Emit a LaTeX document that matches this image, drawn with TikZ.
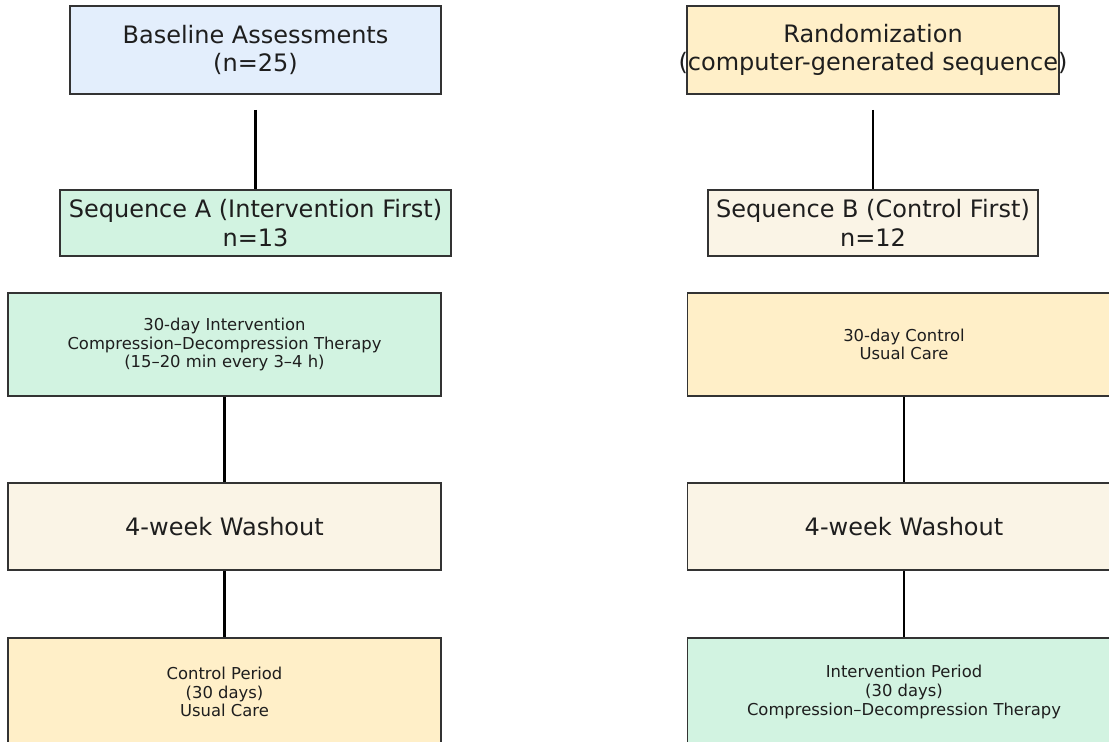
\documentclass[tikz,border=0pt]{standalone}
\usepackage{fontspec}
\setmainfont{DejaVu Sans}
\usepackage{tikz}
\usetikzlibrary{shapes.geometric, arrows}

\definecolor{basefill}{HTML}{E3EEFC}
\definecolor{ctrlfill}{HTML}{FFEFC8}
\definecolor{intfill}{HTML}{D2F3E1}
\definecolor{washfill}{HTML}{FAF4E6}
\definecolor{edgegray}{HTML}{333333}
\definecolor{textgray}{HTML}{1E1E1E}

\begin{document}
\begin{tikzpicture}[x=1pt, y=-1pt,
        box/.style={rectangle, draw=edgegray, line width=1.6pt, inner sep=0pt, align=center, text=textgray},
        bigtxt/.style={font=\fontsize{24}{28.5}\selectfont},
        midtxt/.style={font=\fontsize{24}{28}\selectfont},
        smalltxt/.style={font=\fontsize{16.4}{18.6}\selectfont},
        wide/.style={minimum width=433pt},
        link/.style={line width=2.6pt, black}
    ]
    \useasboundingbox (0,0) rectangle (1109,742);

    % top row
    \node[box, bigtxt, fill=basefill, minimum width=371pt, minimum height=88pt] (base) at (255.5,50)
        {Baseline Assessments\\(n=25)};
    \node[box, bigtxt, fill=ctrlfill, minimum width=372pt, minimum height=88pt] (rand) at (873,50)
        {Randomization\\\makebox[0pt]{(computer-generated sequence)}};

    % sequences
    \node[box, bigtxt, fill=intfill, minimum width=391pt, minimum height=66pt] (seqA) at (255.5,223)
        {Sequence A (Intervention First)\\n=13};
    \node[box, bigtxt, fill=washfill, minimum width=330pt, minimum height=66pt] (seqB) at (873,223)
        {Sequence B (Control First)\\n=12};

    % first period
    \node[box, smalltxt, wide, fill=intfill, minimum height=103pt] (intA) at (224.5,344.5)
        {30-day Intervention\\Compression–Decompression Therapy\\(15–20 min every 3–4 h)};
    \node[box, smalltxt, wide, fill=ctrlfill, minimum height=103pt] (ctlB) at (904,344.5)
        {30-day Control\\Usual Care};

    % washout
    \node[box, midtxt, wide, fill=washfill, minimum height=87pt] (washA) at (224.5,526.5) {4-week Washout};
    \node[box, midtxt, wide, fill=washfill, minimum height=87pt] (washB) at (904,526.5) {4-week Washout};

    % second period (runs off the bottom edge)
    \node[box, smalltxt, wide, fill=ctrlfill, minimum height=108pt] (ctlA) at (224.5,692)
        {Control Period\\(30 days)\\Usual Care};
    \node[box, smalltxt, wide, fill=intfill, minimum height=108pt] (intB) at (904,692)
        {Intervention Period\\(30 days)\\Compression–Decompression Therapy};

    % connectors
    \draw[link] ([yshift=-15pt]base.south) -- (seqA.north);
    \draw[link] ([yshift=-15pt]rand.south) -- (seqB.north);
    \draw[link] (intA.south) -- (washA.north);
    \draw[link] (washA.south) -- (ctlA.north);
    \draw[link] (ctlB.south) -- (washB.north);
    \draw[link] (washB.south) -- (intB.north);
\end{tikzpicture}
\end{document}
